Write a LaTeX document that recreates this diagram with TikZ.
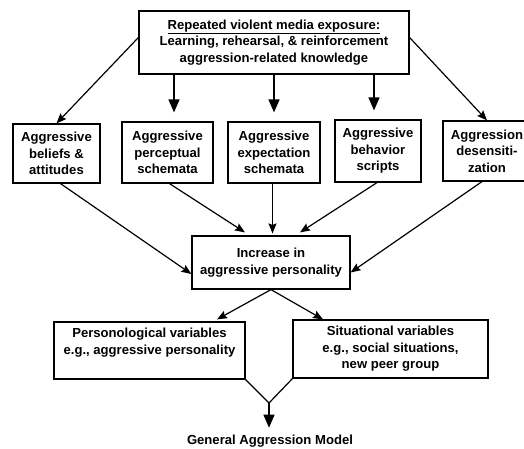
\documentclass[tikz,border=0pt]{standalone}
\usepackage{fontspec}
\setmainfont{Liberation Sans}
\usetikzlibrary{arrows.meta,calc}

\begin{document}
\begin{tikzpicture}[x=1pt,y=1pt,yscale=-1,
  box/.style={draw,line width=1.2pt,inner sep=0pt,align=center,font=\fontsize{13.1}{16.5}\selectfont\bfseries},
  plainline/.style={line width=1.2pt},
  bigarrow/.style={line width=1.2pt,-{Triangle[width=11pt,length=13pt]}},
  arr/.style={line width=1.2pt,-{Stealth[width=8pt,length=10pt,inset=1.5pt]}}]
\useasboundingbox (0,0) rectangle (524,448);
\clip (0,0) rectangle (524,448);

% Top box
\node [box, minimum width=270pt, minimum height=63pt] (top) at (274,42.5) {\underline{Repeated violent media exposure:}\\Learning, rehearsal, \& reinforcement\\aggression-related knowledge};

% Middle row
\node [box, minimum width=87pt, minimum height=59pt] (beliefs) at (56.5,153.5) {Aggressive\\beliefs \&\\attitudes};
\node [box, minimum width=91pt, minimum height=61pt] (perceptual) at (167.5,152.5) {Aggressive\\perceptual\\schemata};
\node [box, minimum width=92pt, minimum height=61pt] (expectation) at (274,152.5) {Aggressive\\expectation\\schemata};
\node [box, minimum width=86pt, minimum height=62pt] (scripts) at (378,151) {Aggressive\\behavior\\scripts};
\node [box, minimum width=88pt, minimum height=60pt] (desens) at (487,151) {Aggression\\desensiti-\\zation};

% Increase box
\node [box, minimum width=158pt, minimum height=53pt] (increase) at (271,262.5) {Increase in\\aggressive personality};

% Lower row
\node [box, minimum width=191pt, minimum height=57pt] (person) at (149.5,350.5) {Personological variables\\e.g., aggressive personality\\[2pt]};
\node [box, minimum width=195pt, minimum height=58pt] (situation) at (390.5,349) {Situational variables\\e.g., social situations,\\new peer group};

% Text Node
\node [inner sep=0pt, font=\fontsize{13.1}{15}\selectfont\bfseries] (gam) at (270,441) {General Aggression Model};

%Straight Lines
\draw [arr] ($(top.west)+(0,-5)$) -- (beliefs.north);
\draw [arr] ($(top.east)+(0,-5)$) -- (desens.north);
\coordinate (a2) at ($(top.south)+(-100,0)$);
\coordinate (a3) at (top.south);
\coordinate (a4) at ($(top.south)+(100,0)$);
\draw [bigarrow, shorten >=9pt] (a2) -- (a2 |- perceptual.north);
\draw [bigarrow, shorten >=9pt] (a3) -- (a3 |- expectation.north);
\draw [bigarrow, shorten >=9pt] (a4) -- (a4 |- scripts.north);

%Straight Lines
\coordinate (e3) at ($(expectation.south)+(-1.5,0)$);
\draw [arr] ($(beliefs.south)+(4,0)$) -- ($(increase.west)+(0,11.5)$);
\draw [arr] ($(perceptual.south)+(2,0)$) -- ($(increase.north)+(-26,-3)$);
\draw [arr, shorten >=2pt] (e3) -- (e3 |- increase.north);
\draw [arr] ($(scripts.south)+(-1,0)$) -- ($(increase.north)+(29,-3)$);
\draw [arr] ($(desens.south)+(-5,0)$) -- ($(increase.east)+(0,10)$);

%Straight Lines
\draw [arr] (increase.south) -- ($(person.north)+(67.5,-2)$);
\draw [arr] (increase.south) -- ($(situation.north)+(-67.5,0)$);

% Funnel
\coordinate (fun) at (269,403);
\draw [plainline] (person.south east) -- (fun) -- (situation.south west);
\draw [bigarrow, shorten >=7pt] (fun) -- (fun |- gam.north);

\end{tikzpicture}
\end{document}
